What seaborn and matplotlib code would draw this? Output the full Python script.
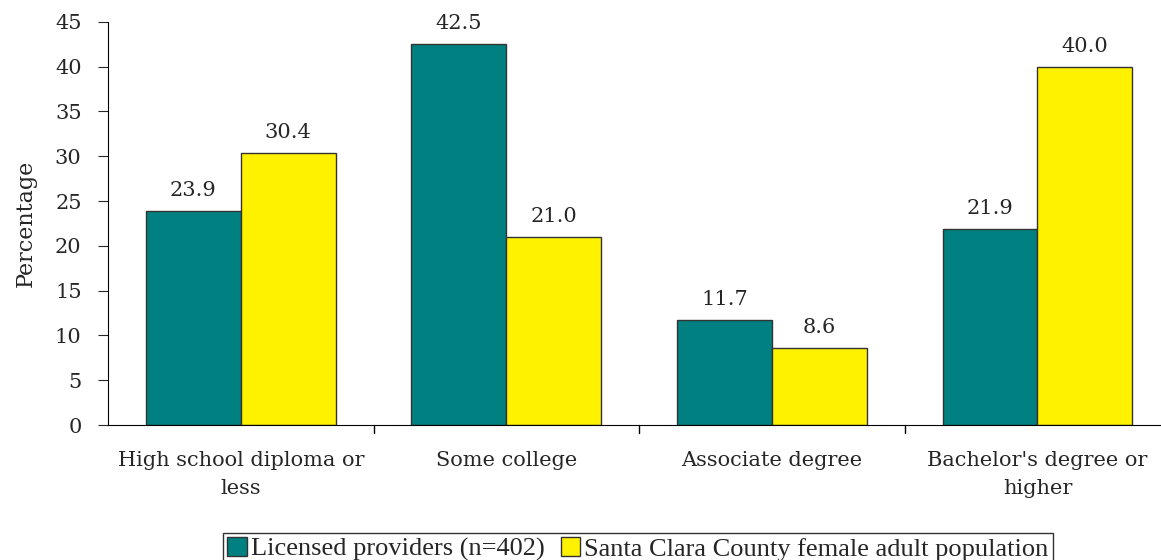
import matplotlib
matplotlib.use("Agg")
import matplotlib.pyplot as plt
import pandas as pd
import seaborn as sns

categories = ["High school diploma or\nless", "Some college",
              "Associate degree", "Bachelor's degree or\nhigher"]
series = ["Licensed providers (n=402)", "Santa Clara County female adult population"]
providers = [23.9, 42.5, 11.7, 21.9]
county = [30.4, 21.0, 8.6, 40.0]
colors = ["#008080", "#FFF200"]

df = pd.DataFrame({
    "category": categories * 2,
    "group": [series[0]] * 4 + [series[1]] * 4,
    "value": providers + county,
})

sns.set_style("white")
plt.rcParams["font.family"] = ["DejaVu Serif"]

fig = plt.figure(figsize=(11.61, 5.6), dpi=100)
ax = fig.add_axes([0.093, 0.241, 0.915, 0.72])

sns.barplot(data=df, x="category", y="value", hue="group", palette=colors,
            width=0.715, edgecolor="#333333", linewidth=1, saturation=1,
            ax=ax, legend=True)

for cont in ax.containers:
    ax.bar_label(cont, fmt="%.1f", padding=8, fontsize=15)

ax.set_ylim(0, 45)
ax.set_yticks(range(0, 46, 5))
ax.set_xlim(-0.5, 3.5)
ax.set_xlabel("")
ax.set_ylabel("Percentage", fontsize=16, labelpad=13)
ax.tick_params(axis="y", labelsize=15, length=7, direction="out", left=True, pad=12)
ax.tick_params(axis="x", labelsize=15, length=0, pad=19)
for lbl in ax.get_xticklabels():
    lbl.set_linespacing(1.6)
# category separator ticks on the x axis
for x in [0.5, 1.5, 2.5]:
    ax.plot([x, x], [0, -0.9], color="black", lw=1, clip_on=False)
for s in ["top", "right"]:
    ax.spines[s].set_visible(False)
ax.spines["left"].set_color("black")
ax.spines["bottom"].set_color("black")

handles, labels = ax.get_legend_handles_labels()
ax.legend_.remove()
fig.legend(handles, labels, loc="upper center", bbox_to_anchor=(0.5495, 0.048),
           ncol=2, frameon=True, fancybox=False, edgecolor="black",
           prop={"family": "Liberation Serif", "size": 19},
           handlelength=0.75, handleheight=0.75, handletextpad=0.15,
           columnspacing=0.6, borderpad=0.15, borderaxespad=0)

fig.savefig("out.png", dpi=100)
